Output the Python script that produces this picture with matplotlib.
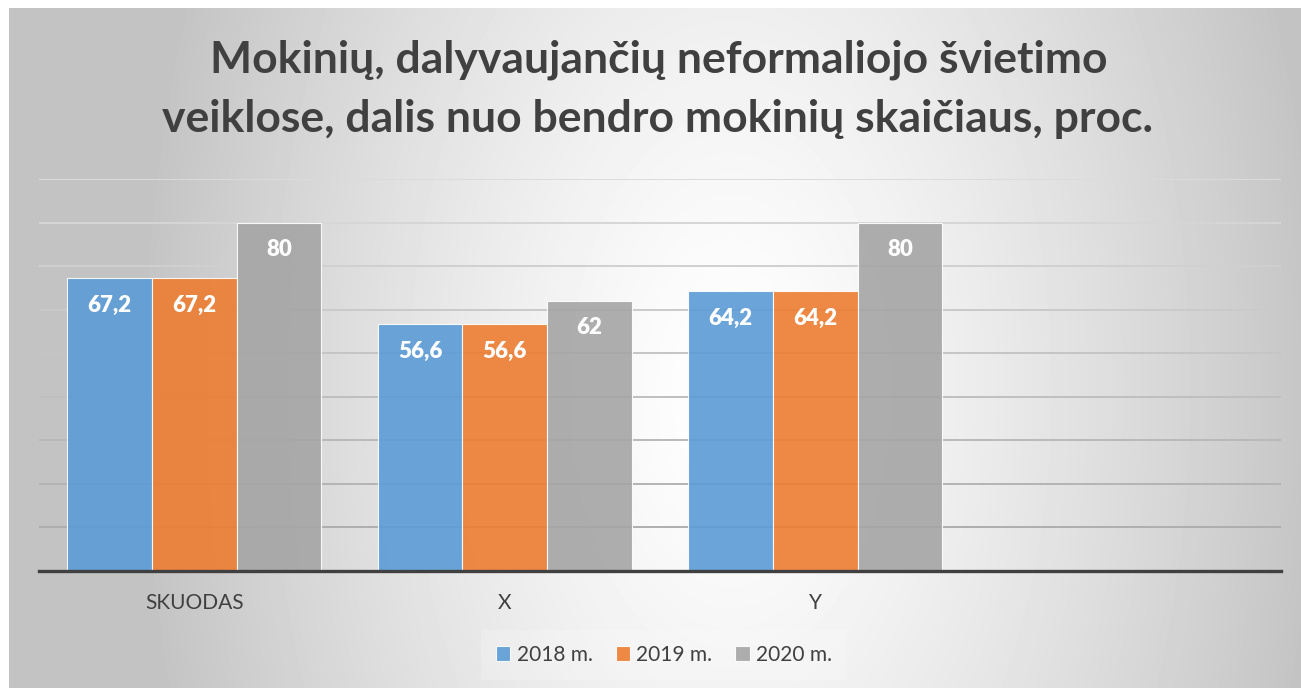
import matplotlib.pyplot as plt
import numpy as np

CATEGORIES = ["SKUODAS", "X", "Y", ""]
SERIES_NAMES = ["2018 m.", "2019 m.", "2020 m."]
VALUES_2018 = [67.2, 56.6, 64.2]
VALUES_2019 = [67.2, 56.6, 64.2]
VALUES_2020 = [80, 62, 80]
LABELS_2018 = ["67,2", "56,6", "64,2"]
LABELS_2019 = ["67,2", "56,6", "64,2"]
LABELS_2020 = ["80", "62", "80"]
TITLE_LINES = [
    "Mokinių, dalyvaujančių neformaliojo švietimo",
    "veiklose, dalis nuo bendro mokinių skaičiaus, proc.",
]

COLORS = ["#5B9BD5", "#ED7D31", "#A5A5A5"]
TEXT = "#404040"
FONT = ["Lato", "DejaVu Sans"]

W, H = 1301, 688
plt.rcParams["font.family"] = FONT

fig = plt.figure(figsize=(W / 100, H / 100), dpi=100, facecolor="white")

# radial gradient backdrop (Excel style chart area)
bg = fig.add_axes([9 / W, 0, 1 - 9 / W, 1 - 8 / H], zorder=0)
xx, yy = np.meshgrid(np.arange(9, W), np.arange(8, H))
r = np.sqrt(((xx - 730) / 580.0) ** 2 + ((yy - 390) / 1000.0) ** 2)
shade = np.clip(255 - 58 * r ** 1.3, 196, 253) / 255.0
bg.imshow(shade, cmap="gray", vmin=0, vmax=1, aspect="auto",
          extent=(0, 1, 0, 1), interpolation="bilinear")
bg.set_axis_off()

ax = fig.add_axes([39 / W, (H - 571) / H, (1281 - 39) / W, (571 - 179) / H], zorder=1)
ax.patch.set_alpha(0)

x = np.arange(len(CATEGORIES))
n = len(VALUES_2018)
width = 0.273
series = [
    (VALUES_2018, LABELS_2018),
    (VALUES_2019, LABELS_2019),
    (VALUES_2020, LABELS_2020),
]
for i, (vals, labels) in enumerate(series):
    xpos = x[:n] + (i - 1) * width
    bars = ax.bar(xpos, vals, width, color=COLORS[i], alpha=0.9,
                  edgecolor="white", linewidth=0.8, label=SERIES_NAMES[i], zorder=3)
    for bar, lab in zip(bars, labels):
        ax.annotate(lab, (bar.get_x() + bar.get_width() / 2, bar.get_height()),
                    xytext=(0, -27), textcoords="offset pixels",
                    ha="center", va="center", color="white",
                    fontsize=16, fontweight="heavy", zorder=4)

ax.set_xlim(-0.5, len(CATEGORIES) - 0.5)
ax.set_ylim(0, 90)
ax.set_yticks(np.arange(0, 91, 10))
ax.set_yticklabels([])
ax.set_xticks(x)
ax.set_xticklabels(CATEGORIES, fontsize=15, color=TEXT)
ax.tick_params(axis="both", length=0)
ax.tick_params(axis="x", pad=16)

ax.grid(axis="y", linewidth=1.4, zorder=1)
ax.set_axisbelow(True)
grid_lines = ax.get_ygridlines()
for k, gl in enumerate(grid_lines):
    level = 0.66 + 0.2 * k / (len(grid_lines) - 1)
    gl.set_color((level, level, level))

for side in ["top", "right", "left"]:
    ax.spines[side].set_visible(False)
ax.spines["bottom"].set_color("#404040")
ax.spines["bottom"].set_linewidth(2.4)
ax.spines["bottom"].set_zorder(5)

fig.text(659 / W, 1 - 73 / H, TITLE_LINES[0], ha="center", va="baseline",
         fontsize=32, fontweight="bold", color=TEXT)
fig.text(657 / W, 1 - 132 / H, TITLE_LINES[1], ha="center", va="baseline",
         fontsize=32, fontweight="bold", color=TEXT)

leg = fig.legend(loc="center", bbox_to_anchor=(664 / W, 1 - 655 / H), ncol=3,
                 fontsize=15, frameon=True, fancybox=False, facecolor="white",
                 framealpha=0.2, edgecolor="none", handlelength=0.7,
                 handleheight=0.7, handletextpad=0.3, columnspacing=1.1,
                 borderpad=0.7)
for t in leg.get_texts():
    t.set_color(TEXT)

fig.savefig("out.png", dpi=100, facecolor="white")
